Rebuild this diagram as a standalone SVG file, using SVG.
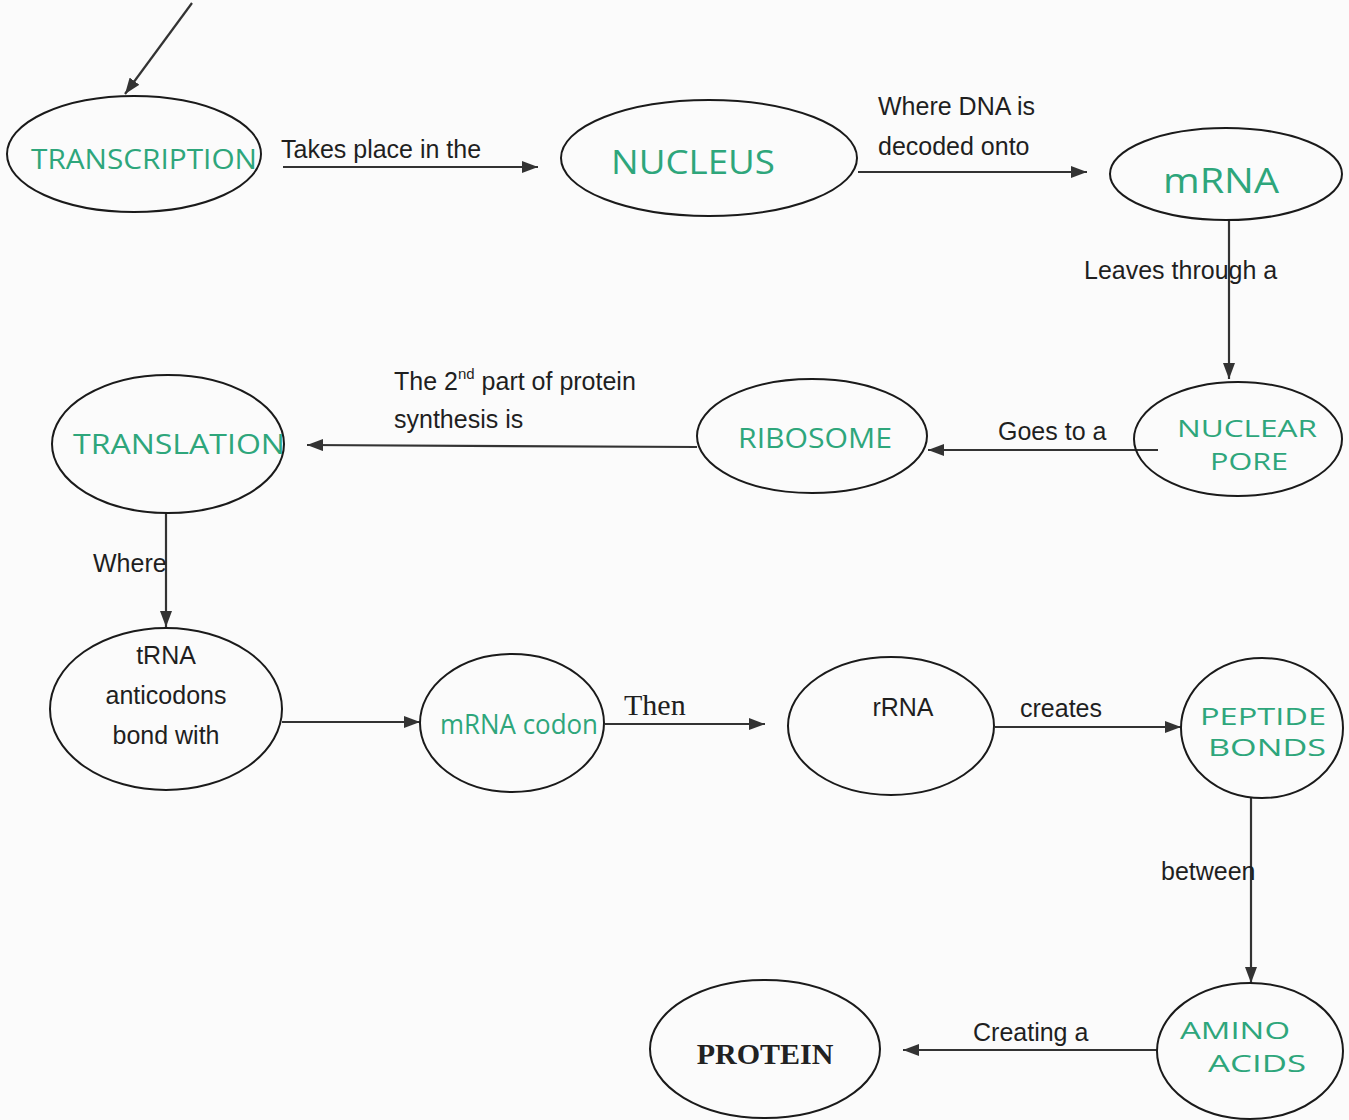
<svg xmlns="http://www.w3.org/2000/svg" width="1349" height="1120" viewBox="0 0 1349 1120">
<defs>
<marker id="ah" viewBox="0 0 16 12" refX="16" refY="6" markerWidth="16" markerHeight="12" markerUnits="userSpaceOnUse" orient="auto">
<path d="M0,0 L16,6 L0,12 Z" fill="#333"/>
</marker>
<style>
.node{fill:none;stroke:#1a1a1a;stroke-width:2}
.hw{font-family:"Open Sans","DejaVu Sans",sans-serif;fill:#2ea67b;font-size:27px;text-anchor:middle}
.hw2{font-family:"Open Sans","DejaVu Sans",sans-serif;fill:#2ea67b;font-size:23px;text-anchor:middle}
.lbl{font-family:"Liberation Sans",Arial,sans-serif;fill:#1f1f1f;font-size:25px}
.ctr{text-anchor:middle}
.con{stroke:#333;stroke-width:2.2;fill:none;marker-end:url(#ah)}
</style>
</defs>
<rect width="1349" height="1120" fill="#fbfbfb"/>
<g id="connectors">
<line class="con" x1="192" y1="3" x2="125" y2="94"/>
<line class="con" x1="283" y1="167" x2="538" y2="167"/>
<line class="con" x1="858" y1="172" x2="1087" y2="172"/>
<line class="con" x1="1229" y1="220" x2="1229" y2="379"/>
<line class="con" x1="1158" y1="450" x2="928" y2="450"/>
<line class="con" x1="697" y1="447" x2="307" y2="445"/>
<line class="con" x1="166" y1="513" x2="166" y2="627"/>
<line class="con" x1="282" y1="722" x2="420" y2="722"/>
<line class="con" x1="605" y1="724" x2="765" y2="724"/>
<line class="con" x1="995" y1="727" x2="1181" y2="727"/>
<line class="con" x1="1251" y1="798" x2="1251" y2="983"/>
<line class="con" x1="1157" y1="1050" x2="903" y2="1050"/>
<text class="lbl" x="281" y="158">Takes place in the</text>
<text class="lbl" x="878" y="115">Where DNA is</text>
<text class="lbl" x="878" y="155">decoded onto</text>
<text class="lbl" x="1084" y="279">Leaves through a</text>
<text class="lbl" x="998" y="440">Goes to a</text>
<text class="lbl" x="394" y="390">The 2<tspan font-size="15" dy="-11">nd</tspan><tspan dy="11"> part of protein</tspan></text>
<text class="lbl" x="394" y="428">synthesis is</text>
<text class="lbl" x="93" y="572">Where</text>
<text x="624" y="715" style="font-family:'Liberation Serif','Times New Roman',serif;font-size:30px;fill:#1f1f1f">Then</text>
<text class="lbl" x="1020" y="717">creates</text>
<text class="lbl" x="1161" y="880">between</text>
<text class="lbl" x="973" y="1041">Creating a</text>
</g>
<g id="n-transcription"><ellipse class="node" cx="134" cy="154" rx="127" ry="58"/><text class="hw" x="144" y="169" textLength="226" lengthAdjust="spacingAndGlyphs">TRANSCRIPTION</text></g>
<g id="n-nucleus"><ellipse class="node" cx="709" cy="158" rx="148" ry="58"/><text class="hw" x="693" y="174" style="font-size:32px" textLength="164" lengthAdjust="spacingAndGlyphs">NUCLEUS</text></g>
<g id="n-mrna"><ellipse class="node" cx="1226" cy="174" rx="116" ry="46"/><text class="hw" x="1221" y="193" style="font-size:34px" textLength="116" lengthAdjust="spacingAndGlyphs">mRNA</text></g>
<g id="n-nuclearpore"><ellipse class="node" cx="1238" cy="439" rx="104" ry="57"/><text class="hw2" x="1247" y="437" textLength="140" lengthAdjust="spacingAndGlyphs">NUCLEAR</text><text class="hw2" x="1249" y="470" textLength="78" lengthAdjust="spacingAndGlyphs">PORE</text></g>
<g id="n-ribosome"><ellipse class="node" cx="812" cy="436" rx="115" ry="57"/><text class="hw" x="815" y="448" textLength="154" lengthAdjust="spacingAndGlyphs">RIBOSOME</text></g>
<g id="n-translation"><ellipse class="node" cx="168" cy="444" rx="116" ry="69"/><text class="hw" x="179" y="454" textLength="212" lengthAdjust="spacingAndGlyphs">TRANSLATION</text></g>
<g id="n-trna"><ellipse class="node" cx="166" cy="709" rx="116" ry="81"/><text class="lbl ctr" x="166" y="664">tRNA</text><text class="lbl ctr" x="166" y="704">anticodons</text><text class="lbl ctr" x="166" y="744">bond with</text></g>
<g id="n-mrnacodon"><ellipse class="node" cx="512" cy="723" rx="92" ry="69"/><text class="hw" x="519" y="734" textLength="158" lengthAdjust="spacingAndGlyphs">mRNA codon</text></g>
<g id="n-rrna"><ellipse class="node" cx="891" cy="726" rx="103" ry="69"/><text class="lbl ctr" x="903" y="716">rRNA</text></g>
<g id="n-peptide"><ellipse class="node" cx="1262" cy="728" rx="81" ry="70"/><text class="hw2" x="1263" y="725" textLength="126" lengthAdjust="spacingAndGlyphs">PEPTIDE</text><text class="hw2" x="1267" y="756" textLength="118" lengthAdjust="spacingAndGlyphs">BONDS</text></g>
<g id="n-amino"><ellipse class="node" cx="1250" cy="1051" rx="93" ry="68"/><text class="hw2" x="1235" y="1039" textLength="110" lengthAdjust="spacingAndGlyphs">AMINO</text><text class="hw2" x="1257" y="1072" textLength="98" lengthAdjust="spacingAndGlyphs">ACIDS</text></g>
<g id="n-protein"><ellipse class="node" cx="765" cy="1049" rx="115" ry="69"/><text x="765" y="1064" text-anchor="middle" style="font-family:'Liberation Serif','Times New Roman',serif;font-weight:bold;font-size:30px;fill:#222">PROTEIN</text></g>
</svg>
